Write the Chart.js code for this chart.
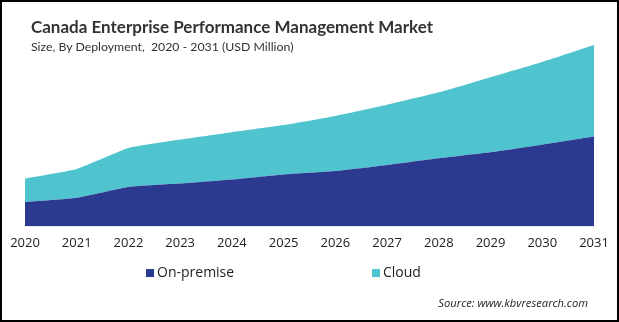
<!DOCTYPE html>
<html>
<head>
<meta charset="utf-8">
<script src="https://cdn.jsdelivr.net/npm/chart.js@4.4.1/dist/chart.umd.min.js"></script>
<style>
  html, body { margin: 0; padding: 0; background: #fff; }
  #wrap { position: relative; width: 619px; height: 322px; overflow: hidden; }
  #frame { position: absolute; left: 0; top: 0; width: 619px; height: 322px; box-sizing: border-box; border: 2px solid #000; pointer-events: none; }
  canvas { position: absolute; left: 0; top: 0; }
  .txt { position: absolute; white-space: nowrap; color: #333; }
  #title { left: 31px; top: 16px; font: bold 17px Lato, sans-serif; }
  #subtitle { left: 31px; top: 39px; font: 12.3px Lato, sans-serif; }
  .leg { position: absolute; top: 262px; font: 14px "Open Sans", sans-serif; color: #222; }
  .leg i { display: inline-block; width: 8px; height: 8px; margin-right: 3px; vertical-align: 0px; }
  #source { right: 31px; top: 295px; font: italic 11.2px "Open Sans", sans-serif; color: #222; }
</style>
</head>
<body>
<div id="wrap">
  <canvas id="myChart" width="619" height="322"></canvas>
  <div class="txt" id="title">Canada Enterprise Performance Management Market</div>
  <div class="txt" id="subtitle">Size, By Deployment, &nbsp;2020 - 2031 (USD Million)</div>
  <div class="leg" id="leg0" style="left:146px"><i></i><span></span></div>
  <div class="leg" id="leg1" style="left:372px"><i></i><span></span></div>
  <div class="txt" id="source">Source: www.kbvresearch.com</div>
  <div id="frame"></div>
</div>
<script>
// years on the x axis
var years = ['2020', '2021', '2022', '2023', '2024', '2025', '2026', '2027', '2028', '2029', '2030', '2031'];
// series names
var seriesNames = ['On-premise', 'Cloud'];
// values (stacked)
var onPremise = [24.0, 28.3, 39.0, 42.3, 46.3, 51.3, 54.7, 60.7, 67.3, 73.3, 80.7, 88.7];
var cloud = [23.3, 28.4, 38.3, 43.4, 46.7, 48.7, 54.3, 59.3, 65.0, 74.0, 81.6, 90.3];

var colors = ['#2b3990', '#4fc3ce'];

// legend
for (var i = 0; i < 2; i++) {
    var el = document.getElementById('leg' + i);
    el.querySelector('i').style.background = colors[i];
    el.querySelector('span').textContent = seriesNames[i];
}

var ctx = document.getElementById('myChart').getContext('2d');
var myChart = new Chart(ctx, {
    type: 'line',
    data: {
        labels: years,
        datasets: [
        // On-premise
        {
            label: seriesNames[0],
            data: onPremise,
            borderColor: colors[0],
            backgroundColor: colors[0],
            borderWidth: 0,
            pointRadius: 0,
            fill: 'origin',
            tension: 0.15
        },
        // Cloud
        {
            label: seriesNames[1],
            data: cloud,
            borderColor: colors[1],
            backgroundColor: colors[1],
            borderWidth: 0,
            pointRadius: 0,
            fill: '-1',
            tension: 0.15
        }
        ]
    },
    options: {
        responsive: false,
        animation: false,
        layout: {
            padding: { left: 25, right: 25, top: 40, bottom: 70 }
        },
        plugins: {
            legend: { display: false },
            title: { display: false },
            tooltip: { enabled: false }
        },
        scales: {
            x: {
                offset: false,
                grid: { display: false },
                border: { display: false },
                ticks: {
                    padding: 1,
                    color: '#222',
                    maxRotation: 0,
                    autoSkip: false,
                    font: { family: 'Open Sans', size: 13 }
                }
            },
            y: {
                display: false,
                stacked: true,
                min: 0,
                max: 184
            }
        }
    }
});
</script>
</body>
</html>
